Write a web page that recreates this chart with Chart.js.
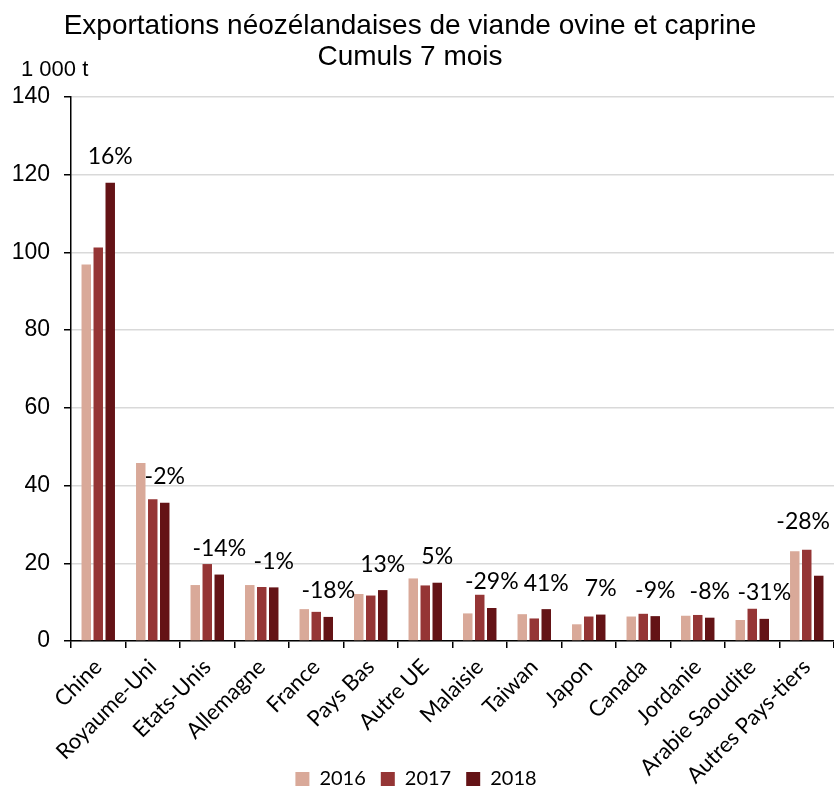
<!DOCTYPE html>
<html>
<head>
<meta charset="utf-8">
<script src="https://cdn.jsdelivr.net/npm/chart.js@4/dist/chart.umd.min.js"></script>
<style>
  html, body { margin: 0; padding: 0; background: #fff; }
  #wrap { width: 834px; height: 789px; }
</style>
</head>
<body>
<div id="wrap"><canvas id="c" width="834" height="789"></canvas></div>
<script>
const categories = ['Chine', 'Royaume-Uni', 'Etats-Unis', 'Allemagne', 'France', 'Pays Bas', 'Autre UE', 'Malaisie', 'Taiwan', 'Japon', 'Canada', 'Jordanie', 'Arabie Saoudite', 'Autres Pays-tiers'];
const seriesNames = ['2016', '2017', '2018'];
const values2016 = [96.9, 45.8, 14.4, 14.4, 8.2, 12.1, 16.1, 7.1, 6.9, 4.3, 6.3, 6.5, 5.4, 23.1];
const values2017 = [101.3, 36.5, 19.8, 13.9, 7.5, 11.7, 14.3, 11.9, 5.8, 6.3, 7.0, 6.7, 8.3, 23.5];
const values2018 = [117.9, 35.6, 17.1, 13.8, 6.2, 13.1, 15.0, 8.5, 8.2, 6.8, 6.4, 6.0, 5.7, 16.8];
const changeLabels = ['16%', '-2%', '-14%', '-1%', '-18%', '13%', '5%', '-29%', '41%', '7%', '-9%', '-8%', '-31%', '-28%'];
const yMin = 0, yMax = 140, yStep = 20;
const titleLines = ['Exportations néozélandaises de viande ovine et caprine', 'Cumuls 7 mois'];
const unitLabel = '1 000 t';

const colors = ['#D9A999', '#953535', '#641316'];

const pctPlugin = {
  id: 'pctLabels',
  afterDatasetsDraw(chart) {
    const ctx = chart.ctx;
    const m17 = chart.getDatasetMeta(1);
    const m18 = chart.getDatasetMeta(2);
    ctx.save();
    ctx.font = '23px Lato';
    ctx.fillStyle = '#000';
    ctx.textAlign = 'center';
    ctx.textBaseline = 'middle';
    changeLabels.forEach((t, i) => {
      const b = m18.data[i];
      const b17 = m17.data[i];
      const w = ctx.measureText(t).width;
      let x = b.x;
      let y = b.y - 26;
      if (x - w / 2 < b17.x + b17.width / 2 && y + 9 > b17.y) y = b17.y - 28;
      if (x + w / 2 > chart.chartArea.right - 4) x = chart.chartArea.right - 4 - w / 2;
      ctx.fillText(t, x, y);
    });
    ctx.restore();
  }
};

const unitPlugin = {
  id: 'unitLabel',
  afterDraw(chart) {
    const ctx = chart.ctx;
    ctx.save();
    ctx.font = '22px "Liberation Sans", Arial, sans-serif';
    ctx.fillStyle = '#000';
    ctx.textAlign = 'left';
    ctx.textBaseline = 'middle';
    ctx.fillText(unitLabel, 21, chart.chartArea.top - 27);
    ctx.restore();
  }
};

const shiftPlugin = {
  id: 'shiftBlocks',
  afterLayout(chart) {
    if (chart.titleBlock) { chart.titleBlock.top += 2; chart.titleBlock.bottom += 2; chart.titleBlock.right -= 14; }
    if (chart.legend) {
      chart.legend.top += 10; chart.legend.bottom += 10;
      chart.legend.right -= 2;
    }
    if (chart.scales.x) { chart.scales.x.bottom = chart.height; }
  }
};

new Chart(document.getElementById('c'), {
  type: 'bar',
  data: {
    labels: categories,
    datasets: [
      { label: seriesNames[0], data: values2016, backgroundColor: colors[0] },
      { label: seriesNames[1], data: values2017, backgroundColor: colors[1] },
      { label: seriesNames[2], data: values2018, backgroundColor: colors[2] }
    ]
  },
  options: {
    responsive: false,
    animation: false,
    maintainAspectRatio: false,
    layout: { padding: { left: 0, right: 0, top: 0, bottom: 0 } },
    datasets: { bar: { categoryPercentage: 0.66, barPercentage: 0.79 } },
    plugins: {
      tooltip: { enabled: false },
      title: {
        display: true,
        text: titleLines,
        color: '#000',
        font: { family: '"Liberation Sans", Arial, sans-serif', size: 28, weight: 'normal', lineHeight: 1.1 },
        padding: { top: 9, bottom: 26.4 }
      },
      legend: {
        display: true,
        position: 'bottom',
        labels: {
          boxWidth: 14, boxHeight: 14, padding: 15, color: '#000',
          font: { family: 'Lato', size: 20 }
        }
      }
    },
    scales: {
      x: {
        offset: true,
        grid: { display: true, drawOnChartArea: false, drawTicks: true, tickLength: 7, tickColor: '#000', lineWidth: 1.5, offset: true },
        border: { display: true, color: '#000', width: 1.5 },
        ticks: { color: '#000', font: { family: 'Lato', size: 22 }, minRotation: 45, maxRotation: 45, padding: 6, autoSkip: false },
        afterFit(scale) { scale.height = 103; }
      },
      y: {
        min: yMin, max: yMax,
        grid: { color: '#D9D9D9', lineWidth: 1.5, tickColor: '#000', tickLength: 7 },
        border: { display: true, color: '#000', width: 1.5 },
        ticks: { stepSize: yStep, color: '#000', padding: 14, font: { family: '"Liberation Sans", Arial, sans-serif', size: 23 } },
        afterFit(scale) { scale.width = 71; }
      }
    }
  },
  plugins: [pctPlugin, unitPlugin, shiftPlugin]
});
</script>
</body>
</html>
